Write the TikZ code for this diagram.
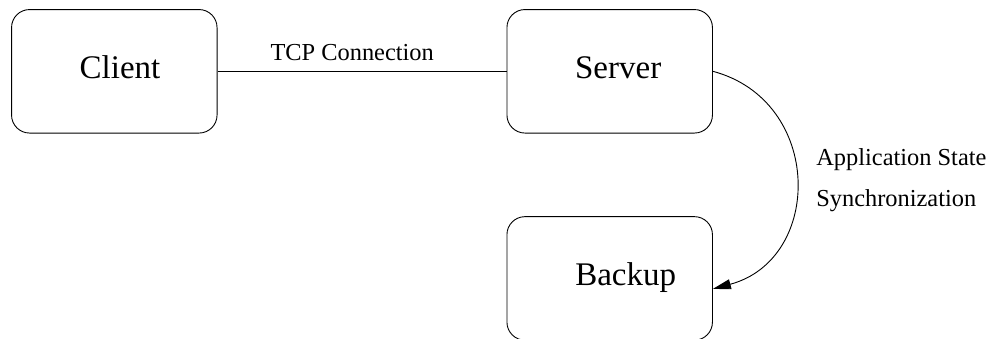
\documentclass[tikz,border=0pt]{standalone}
\usepackage{fontspec}
\setmainfont{Liberation Serif}
\usetikzlibrary{positioning,arrows.meta}

\begin{document}
\begin{tikzpicture}[x=1pt,y=1pt,
  hostbox/.style={draw,line width=0.9pt,rounded corners=18pt,minimum width=205.5pt,minimum height=123.5pt,inner sep=0pt,text height=22pt,text depth=7pt,font=\fontsize{33}{40}\selectfont},
  linklabel/.style={font=\fontsize{24.4}{41}\selectfont}]
  \useasboundingbox (0,0) rectangle (989,-338);
  \node[hostbox] (client) at (114.3,-71.3) {\hspace*{11.4pt}Client};
  \node[hostbox,right=289pt of client] (server) {\hspace*{17pt}Server};
  \node[hostbox,below=82.7pt of server] (backup) {\hspace*{32pt}Backup};
  \draw[line width=0.9pt] (client.east) -- node[linklabel,pos=0.466,above=6.5pt] {TCP Connection} (server.west);
  \draw[line width=0.9pt,-{Triangle[length=18pt,width=10pt]}] (server.east) to[out=-15,in=15,looseness=1.35] node[linklabel,right=20pt,align=left,inner sep=0pt] {Application State\\Synchronization} ([yshift=-10.5pt]backup.east);
\end{tikzpicture}
\end{document}
